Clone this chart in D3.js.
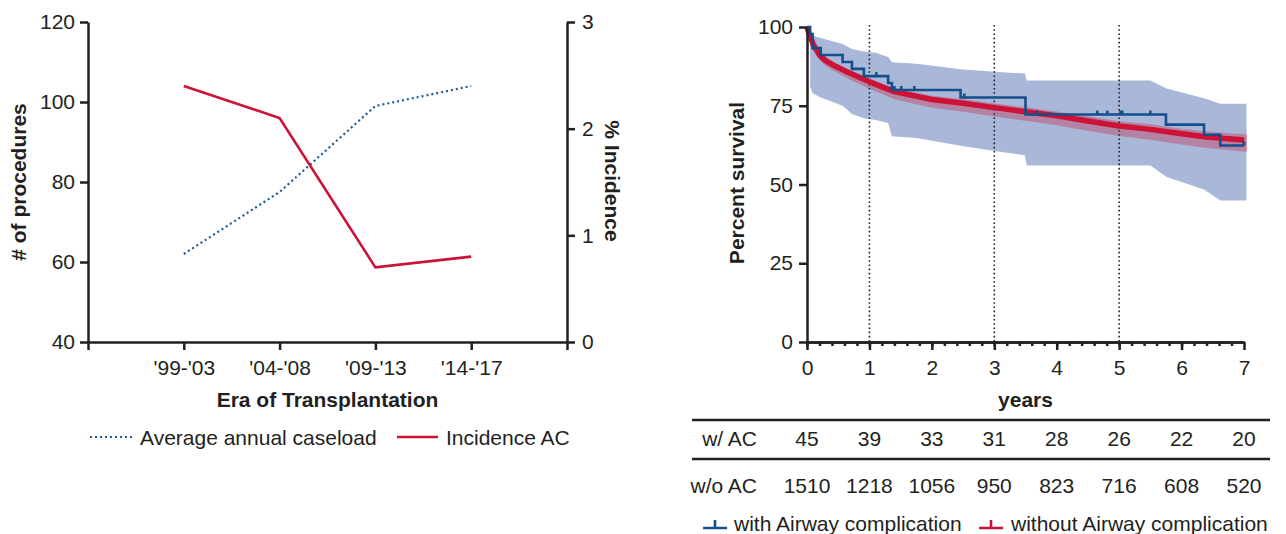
<!DOCTYPE html>
<html><head><meta charset="utf-8">
<script src="https://cdn.jsdelivr.net/npm/d3@7"></script>
<style>
body{margin:0;background:#fff;}
svg{display:block;}
</style></head><body>
<svg id="c" width="1286" height="534"></svg>
<script>
// ---------- Left chart data ----------
const eras = ["'99-'03", "'04-'08", "'09-'13", "'14-'17"];
const caseload = [62, 77.5, 99, 104];
const incidence = [2.4, 2.1, 0.7, 0.8];
const leftTicks = [40, 60, 80, 100, 120];
const rightTicks = [0, 1, 2, 3];

// ---------- Right chart data ----------
const kmYears = [0, 1, 2, 3, 4, 5, 6, 7];
const dottedYears = [1, 3, 5];
const survTicks = [0, 25, 50, 75, 100];
const atRiskWithAC = [45, 39, 33, 31, 28, 26, 22, 20];
const atRiskWithoutAC = [1510, 1218, 1056, 950, 823, 716, 608, 520];

// with airway complication (step)
const acTime = [0, 0.05, 0.09, 0.22, 0.57, 0.72, 0.91, 1.30, 1.36, 2.46, 3.50, 5.75, 6.36, 6.62, 7.0];
const acSurv = [100, 97.8, 93.3, 91.1, 88.9, 86.7, 84.4, 82.2, 80.0, 77.6, 72.2, 69.0, 65.8, 62.4, 62.4];
const acCensorTime = [1.11, 1.40, 1.51, 1.72, 2.52, 3.68, 4.65, 4.81, 5.02, 5.05, 5.50, 7.0];
const acCensorSurv = [84.4, 80.0, 80.0, 80.0, 77.6, 72.2, 72.2, 72.2, 72.2, 72.2, 72.2, 62.4];
const acBandTime = [0.05, 0.09, 0.22, 0.57, 0.72, 0.91, 1.10, 1.30, 1.36, 1.75, 2.46, 3.00, 3.49, 3.52, 5.50, 5.76, 6.36, 6.62, 7.04];
const acBandLow  = [81.0, 79.0, 77.6, 75.0, 72.4, 71.0, 70.5, 69.5, 65.3, 64.8, 62.3, 60.6, 59.3, 56.0, 56.0, 52.4, 48.4, 44.9, 44.9];
const acBandHigh = [97.8, 97.3, 96.5, 94.6, 93.0, 92.2, 91.8, 90.5, 88.8, 88.3, 86.6, 85.8, 85.2, 83.0, 83.0, 80.5, 77.4, 75.6, 75.6];

// without airway complication
const noTime = [0, 0.03, 0.1, 0.2, 0.3, 0.45, 0.7, 1.0, 1.2, 1.4, 1.7, 2.0, 2.5, 3.0, 3.5, 4.0, 4.4, 5.0, 5.5, 6.0, 6.4, 7.0];
const noSurv = [100, 98, 94.5, 91, 89.3, 87.6, 85.2, 82.6, 81.0, 79.5, 78.2, 77.0, 75.8, 74.4, 73.1, 71.8, 70.5, 68.6, 67.5, 66.1, 65.1, 64.1];
const noBandTime = [0, 0.03, 0.1, 0.2, 0.3, 0.45, 0.7, 1.0, 1.2, 1.4, 1.7, 2.0, 2.5, 3.0, 3.5, 4.0, 4.4, 5.0, 5.5, 6.0, 6.4, 7.05];
const noBandLow  = [100, 97.2, 93.3, 89.5, 87.6, 85.8, 83.2, 80.4, 78.7, 77.1, 75.7, 74.4, 73.1, 71.6, 70.2, 68.8, 67.4, 65.4, 64.2, 62.7, 61.6, 60.4];
const noBandHigh = [100, 98.5, 95.2, 91.8, 90.2, 88.6, 86.2, 83.7, 82.1, 80.7, 79.4, 78.2, 77.1, 75.7, 74.5, 73.2, 72.0, 70.1, 69.1, 67.7, 66.8, 65.9];

// ---------- Styles ----------
const FONT = '"Liberation Sans", Arial, Helvetica, sans-serif';
const INK = "#231f20";
const RED = "#cc1236";
const BLUE = "#154f8a";
const BLUE_DOT = "#1a5a97";
const BAND_BLUE = "#a9b8d8";
const FS = 21;
const fmtInt = d3.format("d");

const svg = d3.select("#c").attr("font-family", FONT);

function styleAxis(g, fs) {
  g.attr("font-family", FONT).attr("font-size", fs).attr("color", INK);
  g.selectAll(".domain").attr("stroke-width", 2.5);
  g.selectAll(".tick line").attr("stroke-width", 2.5);
  g.selectAll(".tick text").attr("fill", INK);
}

// ================= LEFT CHART =================
const xL = d3.scalePoint().domain(["_s", ...eras, "_e"]).range([88, 567]);
const yL = d3.scaleLinear().domain([40, 120]).range([342, 22]);
const yR = d3.scaleLinear().domain([0, 3]).range([342, 22]);

const gxL = svg.append("g").attr("transform", "translate(0,342)")
  .call(d3.axisBottom(xL).tickSize(8).tickSizeOuter(0).tickPadding(10)
    .tickFormat(d => eras.includes(d) ? d : ""));
styleAxis(gxL, FS);

const gyL = svg.append("g").attr("transform", "translate(88,0)")
  .call(d3.axisLeft(yL).tickValues(leftTicks).tickSize(8).tickSizeOuter(0).tickPadding(5).tickFormat(fmtInt));
styleAxis(gyL, FS);

const gyR = svg.append("g").attr("transform", "translate(567,0)")
  .call(d3.axisRight(yR).tickValues(rightTicks).tickSize(8).tickSizeOuter(0).tickPadding(7).tickFormat(fmtInt));
styleAxis(gyR, FS);

// lines
const caseLine = d3.line().x((d, i) => xL(eras[i])).y(d => yL(d));
svg.append("path").datum(caseload).attr("d", caseLine)
  .attr("fill", "none").attr("stroke", BLUE_DOT).attr("stroke-width", 2.2)
  .attr("stroke-dasharray", "2,3");
const incLine = d3.line().x((d, i) => xL(eras[i])).y(d => yR(d));
svg.append("path").datum(incidence).attr("d", incLine)
  .attr("fill", "none").attr("stroke", RED).attr("stroke-width", 2.6)
  .attr("stroke-linejoin", "miter");

// titles
svg.append("text").attr("x", 327.5).attr("y", 407).attr("text-anchor", "middle")
  .attr("font-weight", "bold").attr("font-size", FS).attr("fill", INK).text("Era of Transplantation");
svg.append("text").attr("transform", "translate(26,182) rotate(-90)").attr("text-anchor", "middle")
  .attr("font-weight", "bold").attr("font-size", FS).attr("fill", INK).text("# of procedures");
svg.append("text").attr("transform", "translate(605,181) rotate(90)").attr("text-anchor", "middle")
  .attr("font-weight", "bold").attr("font-size", FS).attr("fill", INK).text("% Incidence");

// legend
svg.append("line").attr("x1", 90).attr("x2", 132).attr("y1", 437).attr("y2", 437)
  .attr("stroke", BLUE_DOT).attr("stroke-width", 2.2).attr("stroke-dasharray", "2,3");
svg.append("text").attr("x", 140).attr("y", 444.5).attr("font-size", FS).attr("fill", INK).text("Average annual caseload");
svg.append("line").attr("x1", 397).attr("x2", 438).attr("y1", 437).attr("y2", 437)
  .attr("stroke", RED).attr("stroke-width", 2.6);
svg.append("text").attr("x", 446).attr("y", 444.5).attr("font-size", FS).attr("fill", INK).text("Incidence AC");

// ================= RIGHT CHART =================
const xK = d3.scaleLinear().domain([0, 7]).range([807, 1244]);
const yK = d3.scaleLinear().domain([0, 100]).range([342, 27]);

// blue CI band
const acBand = acBandTime.map((t, i) => ({t, lo: acBandLow[i], hi: acBandHigh[i]}));
svg.append("path").datum(acBand)
  .attr("d", d3.area().x(d => xK(d.t)).y0(d => yK(d.lo)).y1(d => yK(d.hi)))
  .attr("fill", BAND_BLUE);

// red CI band
const noBand = noBandTime.map((t, i) => ({t, lo: noBandLow[i], hi: noBandHigh[i]}));
svg.append("path").datum(noBand)
  .attr("d", d3.area().x(d => xK(d.t)).y0(d => yK(d.lo)).y1(d => yK(d.hi)))
  .attr("fill", RED).attr("fill-opacity", 0.32);

// dotted verticals
svg.append("g").selectAll("line").data(dottedYears).join("line")
  .attr("x1", d => xK(d)).attr("x2", d => xK(d))
  .attr("y1", yK(100) - 2).attr("y2", yK(0))
  .attr("stroke", "#222").attr("stroke-width", 1.6).attr("stroke-dasharray", "1.6,2.6");

// red survival line
const noPts = noTime.map((t, i) => ({t, s: noSurv[i]}));
svg.append("path").datum(noPts)
  .attr("d", d3.line().x(d => xK(d.t)).y(d => yK(d.s)))
  .attr("fill", "none").attr("stroke", RED).attr("stroke-width", 5.5);

// blue step line
const acPts = acTime.map((t, i) => ({t, s: acSurv[i]}));
svg.append("path").datum(acPts)
  .attr("d", d3.line().curve(d3.curveStepAfter).x(d => xK(d.t)).y(d => yK(d.s)))
  .attr("fill", "none").attr("stroke", BLUE).attr("stroke-width", 2.6);
// censor marks
svg.append("g").selectAll("line").data(acCensorTime.map((t, i) => ({t, s: acCensorSurv[i]}))).join("line")
  .attr("x1", d => xK(d.t)).attr("x2", d => xK(d.t))
  .attr("y1", d => yK(d.s)).attr("y2", d => yK(d.s) - 4)
  .attr("stroke", BLUE).attr("stroke-width", 2.6);

// axes
const gyK = svg.append("g").attr("transform", "translate(807,0)")
  .call(d3.axisLeft(yK).tickValues(survTicks).tickSize(8).tickSizeOuter(0).tickPadding(6).tickFormat(fmtInt));
styleAxis(gyK, FS);

const gxKminor = svg.append("g").attr("transform", "translate(0,342)")
  .call(d3.axisBottom(xK).tickValues(d3.range(0, 35).map(i => i / 5)).tickSize(4).tickSizeOuter(0).tickFormat(""));
styleAxis(gxKminor, FS);
const gxK = svg.append("g").attr("transform", "translate(0,342)")
  .call(d3.axisBottom(xK).tickValues(kmYears).tickSize(8).tickSizeOuter(0).tickPadding(10).tickFormat(fmtInt));
styleAxis(gxK, FS);

svg.append("text").attr("x", 1025.5).attr("y", 407).attr("text-anchor", "middle")
  .attr("font-weight", "bold").attr("font-size", FS).attr("fill", INK).text("years");
svg.append("text").attr("transform", "translate(744,183) rotate(-90)").attr("text-anchor", "middle")
  .attr("font-weight", "bold").attr("font-size", FS).attr("fill", INK).text("Percent survival");

// at-risk table
svg.append("line").attr("x1", 692).attr("x2", 1270).attr("y1", 420).attr("y2", 420)
  .attr("stroke", INK).attr("stroke-width", 2.5);
svg.append("line").attr("x1", 692).attr("x2", 1270).attr("y1", 459).attr("y2", 459)
  .attr("stroke", INK).attr("stroke-width", 2.5);
svg.append("text").attr("x", 757).attr("y", 445.5).attr("text-anchor", "end")
  .attr("font-size", FS).attr("fill", INK).text("w/ AC");
svg.append("text").attr("x", 757).attr("y", 492.5).attr("text-anchor", "end")
  .attr("font-size", FS).attr("fill", INK).text("w/o AC");
svg.append("g").selectAll("text").data(atRiskWithAC).join("text")
  .attr("x", (d, i) => xK(kmYears[i])).attr("y", 445.5).attr("text-anchor", "middle")
  .attr("font-size", FS).attr("fill", INK).text(d => d);
svg.append("g").selectAll("text").data(atRiskWithoutAC).join("text")
  .attr("x", (d, i) => xK(kmYears[i])).attr("y", 492.5).attr("text-anchor", "middle")
  .attr("font-size", FS).attr("fill", INK).text(d => d);

// legend
function kmIcon(x, color) {
  svg.append("path").attr("d", `M${x},528H${x + 24}M${x + 12},528V520`)
    .attr("fill", "none").attr("stroke", color).attr("stroke-width", 2.6);
}
kmIcon(703, BLUE);
svg.append("text").attr("x", 734).attr("y", 530.5).attr("font-size", FS).attr("fill", INK).text("with Airway complication");
kmIcon(979, RED);
svg.append("text").attr("x", 1011).attr("y", 530.5).attr("font-size", FS).attr("fill", INK).text("without Airway complication");
</script>
</body></html>
